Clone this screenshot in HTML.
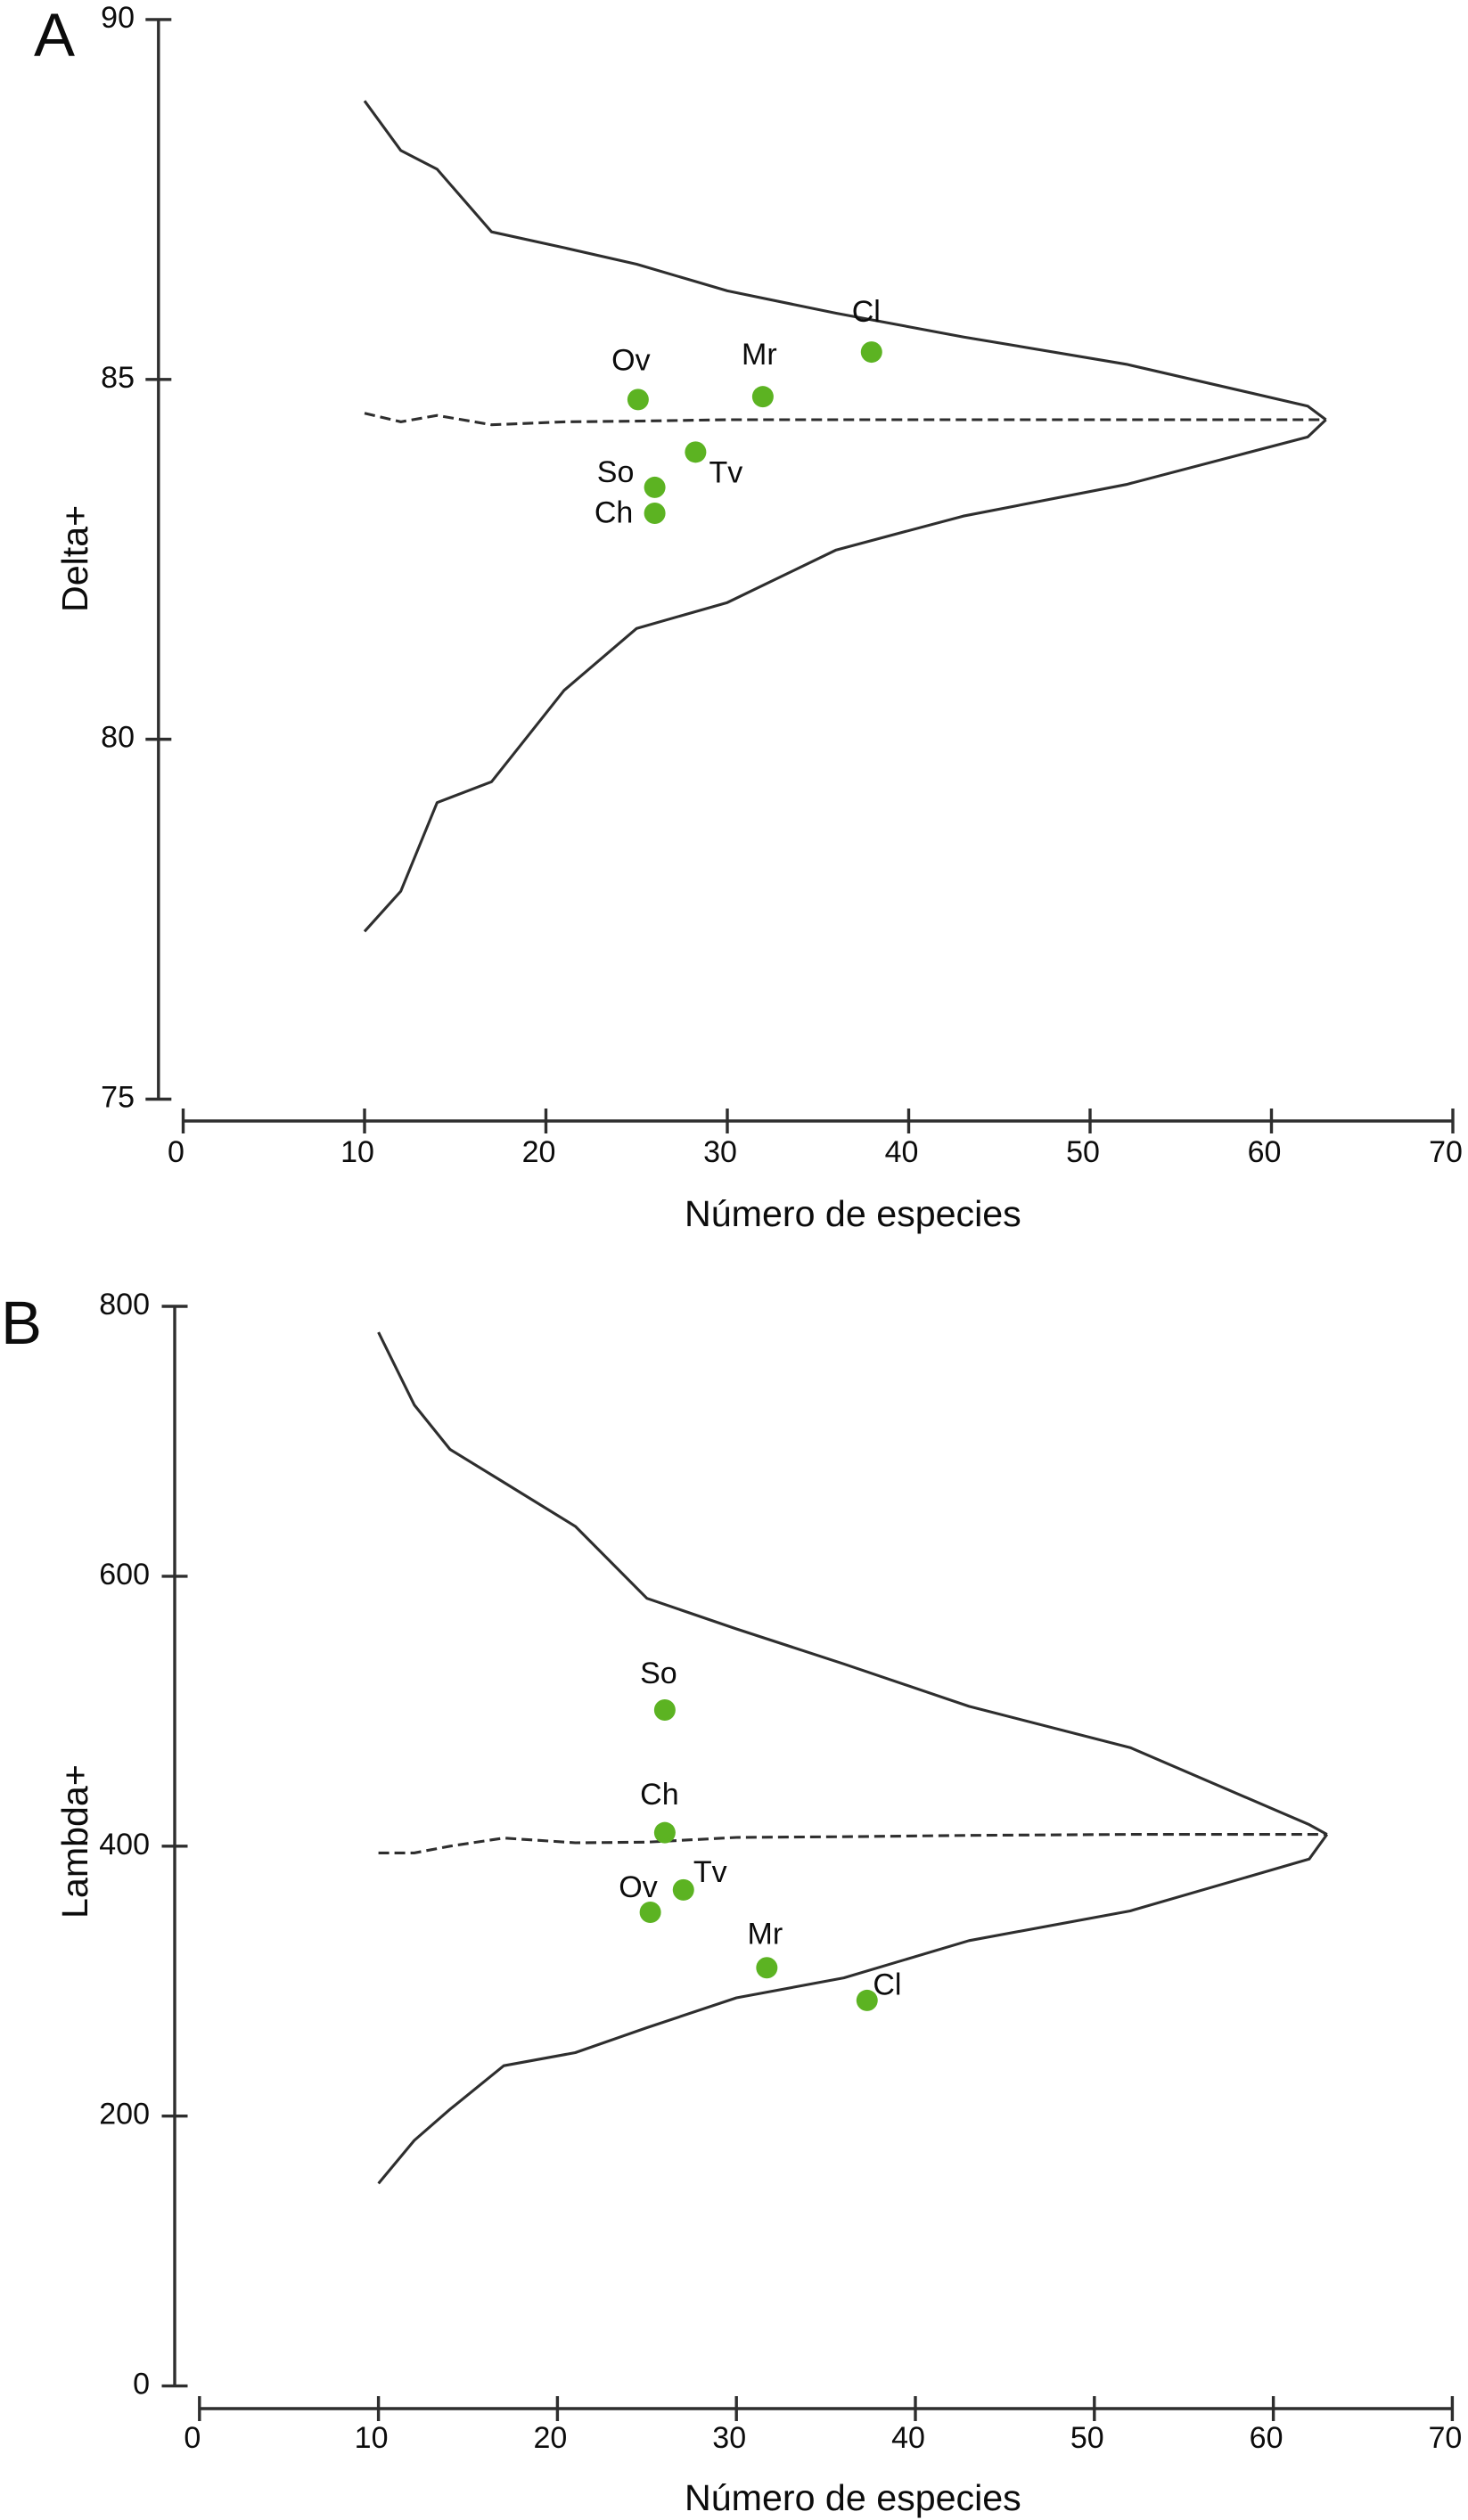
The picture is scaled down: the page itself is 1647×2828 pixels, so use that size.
<!DOCTYPE html>
<html lang="es">
<head>
<meta charset="utf-8">
<title>Delta+ y Lambda+ frente al número de especies</title>
<style>
  html, body { margin: 0; padding: 0; background: #fff; }
  #figure { display: block; width: 1647px; height: 2828px; background: #fff; }
  text { font-family: "Liberation Sans", sans-serif; fill: #0c0c0c; }
  .tick-label, .site-label { font-size: 34px; }
  .axis-title { font-size: 41.2px; }
  .panel-letter { font-size: 69px; }
</style>
</head>
<body>
<svg id="figure" xmlns="http://www.w3.org/2000/svg" width="1647" height="2828" viewBox="0 0 1647 2828">
  <g id="panel-a">
    <text class="panel-letter" x="38" y="63">A</text>
    <text class="axis-title" transform="translate(98 687) rotate(-90)">Delta+</text>
    <text class="axis-title" x="768" y="1376">Número de especies</text>
  </g>
  <g id="panel-b">
    <text class="panel-letter" x="1" y="1508">B</text>
    <text class="axis-title" transform="translate(98 2153) rotate(-90)">Lambda+</text>
    <text class="axis-title" x="768" y="2817">Número de especies</text>
  </g>
</svg>
<script>
// Shared categories and ticks
const speciesCounts = [10, 12, 14, 17, 21, 25, 30, 36, 43, 52, 62, 63];
const xTickLabels = [0, 10, 20, 30, 40, 50, 60, 70];
const siteNames = ['Ov', 'So', 'Ch', 'Tv', 'Mr', 'Cl'];

// Panel A: Delta+
const deltaTicks = [90, 85, 80, 75];
const deltaUpper = [88.87, 88.18, 87.92, 87.05, 86.83, 86.6, 86.23, 85.92, 85.59, 85.21, 84.63, 84.44];
const deltaMean = [84.53, 84.41, 84.5, 84.37, 84.41, 84.42, 84.44, 84.44, 84.44, 84.44, 84.44, 84.44];
const deltaLower = [77.33, 77.89, 79.12, 79.41, 80.68, 81.54, 81.9, 82.63, 83.1, 83.54, 84.2, 84.44];
const deltaSiteSpecies = [25.08, 26.0, 26.0, 28.25, 31.96, 37.95];
const deltaSiteValues = [84.72, 83.5, 83.14, 83.99, 84.76, 85.38];

// Panel B: Lambda+
const lambdaTicks = [800, 600, 400, 200, 0];
const lambdaUpper = [780.8, 727, 694, 669.6, 637, 583.6, 561, 535, 503.6, 473, 416, 408.7];
const lambdaMean = [395, 395, 400, 406, 402.5, 403, 406.5, 407, 408, 408.7, 408.7, 408.7];
const lambdaLower = [150, 182, 205, 237.3, 247, 265.5, 287.6, 302.4, 330, 352, 390.4, 408.7];
const lambdaSiteSpecies = [25.19, 26.0, 26.0, 27.04, 31.7, 37.3];
const lambdaSiteValues = [351, 500.9, 410, 367.6, 309.9, 285.7];

const SVG_NS = 'http://www.w3.org/2000/svg';
const INK = '#2e2e2e';
const DOT = '#5cb322';

function makeSvg(tag, parent, attrs) {
  const el = document.createElementNS(SVG_NS, tag);
  Object.keys(attrs).forEach(function (k) { el.setAttribute(k, attrs[k]); });
  parent.appendChild(el);
  return el;
}

function drawPanel(cfg) {
  const root = document.getElementById(cfg.id);
  const xScale = function (v) { return cfg.x0 + v * cfg.xUnit; };
  const yScale = function (v) {
    return cfg.yTop + (cfg.yMax - v) * (cfg.yBottom - cfg.yTop) / (cfg.yMax - cfg.yMin);
  };

  // y axis
  const yAxis = makeSvg('line', root, { x1: cfg.yAxisX, x2: cfg.yAxisX, y1: yScale(cfg.yMax), y2: yScale(cfg.yMin), stroke: INK, 'stroke-width': 3.4 });
  
  
  cfg.yTicks.forEach(function (v) {
    const tick = makeSvg('line', root, { x1: cfg.yAxisX - 14.5, x2: cfg.yAxisX + 14.5, y1: yScale(v), y2: yScale(v), stroke: INK, 'stroke-width': 3.4 });
    
    
    const label = makeSvg('text', root, { class: 'tick-label', x: cfg.yLabelRight, y: yScale(v) + 9, 'text-anchor': 'end' });
    label.textContent = String(v);
    
    
  });

  // x axis
  const xAxis = makeSvg('line', root, { x1: xScale(0), x2: xScale(xTickLabels[xTickLabels.length - 1]), y1: cfg.xAxisY, y2: cfg.xAxisY, stroke: INK, 'stroke-width': 3.4 });
  
  
  xTickLabels.forEach(function (v) {
    const tick = makeSvg('line', root, { x1: xScale(v), x2: xScale(v), y1: cfg.xAxisY - 14, y2: cfg.xAxisY + 14, stroke: INK, 'stroke-width': 3.4 });
    
    
    const label = makeSvg('text', root, { class: 'tick-label', x: xScale(v) - 8, y: cfg.xLabelY, 'text-anchor': 'middle' });
    label.textContent = String(v);
    
    
  });

  // Funnel lines: upper and lower limits joined at the tip, mean dashed
  const toPath = function (values) {
    return values.map(function (v, i) {
      return (i ? 'L' : 'M') + xScale(speciesCounts[i]).toFixed(1) + ' ' + yScale(v).toFixed(1);
    }).join(' ');
  };
  const upper = makeSvg('path', root, { d: toPath(cfg.upper), fill: 'none', stroke: INK, 'stroke-width': 3.1, 'stroke-linejoin': 'round' });
  
  
  const lower = makeSvg('path', root, { d: toPath(cfg.lower), fill: 'none', stroke: INK, 'stroke-width': 3.1, 'stroke-linejoin': 'round' });
  
  
  const mean = makeSvg('path', root, { d: toPath(cfg.mean), fill: 'none', stroke: INK, 'stroke-width': 3.1, 'stroke-dasharray': '12 6' });
  
  

  // Sites
  siteNames.forEach(function (name, i) {
    const cx = xScale(cfg.siteSpecies[i]);
    const cy = yScale(cfg.siteValues[i]);
    const dot = makeSvg('circle', root, { cx: cx, cy: cy, r: 12, fill: DOT });
    
    
    const offset = cfg.labelOffsets[name];
    const label = makeSvg('text', root, { class: 'site-label', x: cx + offset[0], y: cy + offset[1], 'text-anchor': 'middle' });
    label.textContent = name;
    
    
  });
}

drawPanel({
  id: 'panel-a', prefix: 'delta',
  x0: 205.5, xUnit: 20.35, xAxisY: 1258, xLabelY: 1304,
  yAxisX: 177.8, yLabelRight: 151, yTop: 21.9, yBottom: 1233.5, yMax: 90, yMin: 75,
  yTicks: deltaTicks, upper: deltaUpper, mean: deltaMean, lower: deltaLower,
  siteSpecies: deltaSiteSpecies, siteValues: deltaSiteValues,
  labelOffsets: { Ov: [-8, -33], So: [-44, -6], Ch: [-46, 10.6], Tv: [34, 34], Mr: [-4, -36], Cl: [-6, -34] }
});

drawPanel({
  id: 'panel-b', prefix: 'lambda',
  x0: 223.8, xUnit: 20.08, xAxisY: 2703, xLabelY: 2747,
  yAxisX: 196, yLabelRight: 168, yTop: 1466, yBottom: 2677.6, yMax: 800, yMin: 0,
  yTicks: lambdaTicks, upper: lambdaUpper, mean: lambdaMean, lower: lambdaLower,
  siteSpecies: lambdaSiteSpecies, siteValues: lambdaSiteValues,
  labelOffsets: { Ov: [-13.6, -17], So: [-7, -30], Ch: [-6, -31.7], Tv: [30, -9], Mr: [-2, -27], Cl: [22.6, -6.5] }
});
</script>
</body>
</html>
